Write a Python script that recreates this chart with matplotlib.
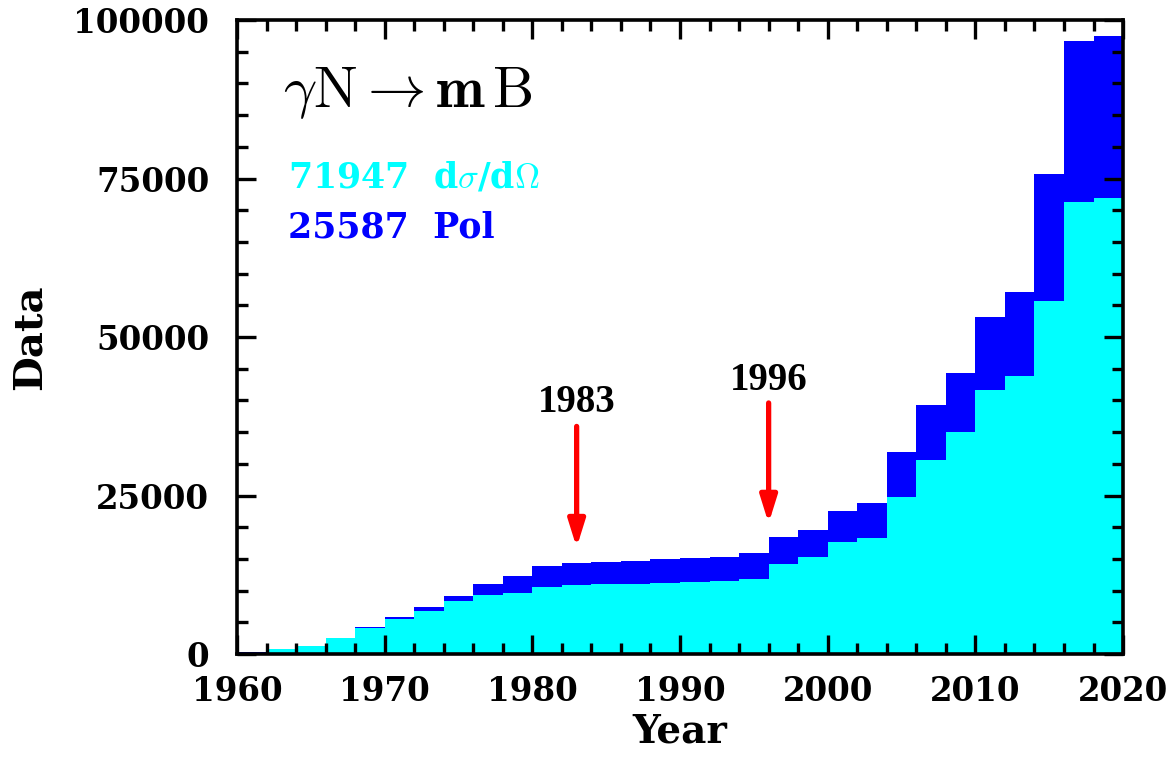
import numpy as np
import matplotlib
matplotlib.use("Agg")
import matplotlib.pyplot as plt
from matplotlib.ticker import MultipleLocator

# 2-year bins, cumulative counts
edges = np.arange(1960, 2022, 2)
dsig = [200, 750, 1200, 2450, 4100, 5600, 6850, 8400, 9370, 9620,
        10630, 10890, 11000, 11050, 11200, 11300, 11470, 11890, 14200, 15300,
        17620, 18250, 24800, 30550, 34970, 41590, 43910, 55630, 71250, 71947]
pol = [100, 100, 100, 150, 150, 200, 500, 800, 1730, 2750,
       3200, 3500, 3500, 3570, 3800, 3800, 3800, 3990, 4200, 4320,
       5000, 5570, 7060, 8780, 9410, 11620, 13260, 20140, 25390, 25587]
arrow_years = [1983, 1996]
arrow_top = [35900, 39600]
arrow_tip = [16800, 20600]
arrow_text_y = [39600, 43200]

plt.rcParams['font.family'] = ['DejaVu Serif']
plt.rcParams['font.weight'] = 'bold'
plt.rcParams['mathtext.fontset'] = 'cm'

total = np.array(dsig) + np.array(pol)

fig = plt.figure(figsize=(11.76, 7.59), dpi=100)
ax = fig.add_axes([0.2015, 0.1383, 0.7535, 0.8353])

ax.stairs(total, edges, fill=True, color='#0000ff', baseline=0)
ax.stairs(dsig, edges, fill=True, color='#00ffff', baseline=0)

ax.set_xlim(1960, 2020)
ax.set_ylim(0, 100000)
ax.xaxis.set_major_locator(MultipleLocator(10))
ax.xaxis.set_minor_locator(MultipleLocator(2))
ax.yaxis.set_major_locator(MultipleLocator(25000))
ax.yaxis.set_minor_locator(MultipleLocator(5000))
ax.tick_params(which='both', direction='in', top=True, right=True, width=2.4,
               labelsize=23.5)
ax.tick_params(axis='x', which='major', pad=15)
ax.tick_params(axis='y', which='major', pad=20)
ax.tick_params(which='major', length=14)
ax.tick_params(which='minor', length=8)
for s in ax.spines.values():
    s.set_linewidth(2.6)
for lab in ax.get_xticklabels() + ax.get_yticklabels():
    lab.set_fontweight('bold')

ax.set_xlabel('Year', fontsize=28, fontweight='bold')
ax.set_ylabel('Data', fontsize=29, fontweight='bold')
ax.xaxis.set_label_coords(0.5, -0.092)
ax.yaxis.set_label_coords(-0.213, 0.5)

ax.text(0.052, 0.885, r'$\gamma\mathrm{N}\rightarrow\mathbf{m}\,\mathrm{B}$',
        transform=ax.transAxes, fontsize=42, va='center', ha='left')
ax.text(0.058, 0.752, r'71947  d$\sigma$/d$\Omega$', transform=ax.transAxes,
        fontsize=25, color='#00ffff', va='center', ha='left', fontweight='bold')
ax.text(0.058, 0.672, '25587  Pol', transform=ax.transAxes,
        fontsize=25, color='#0000ff', va='center', ha='left', fontweight='bold')

for yr, y0, y1, ty in zip(arrow_years, arrow_top, arrow_tip, arrow_text_y):
    ax.annotate('', xy=(yr, y1), xytext=(yr, y0),
                arrowprops=dict(arrowstyle='-|>,head_width=0.5,head_length=1.6',
                                color='red', lw=3.8, shrinkA=0, shrinkB=0))
    ax.text(yr, ty, str(yr), ha='center', va='center', fontsize=28,
            fontweight='bold', family='Liberation Serif')

fig.savefig('out.png', dpi=100)
